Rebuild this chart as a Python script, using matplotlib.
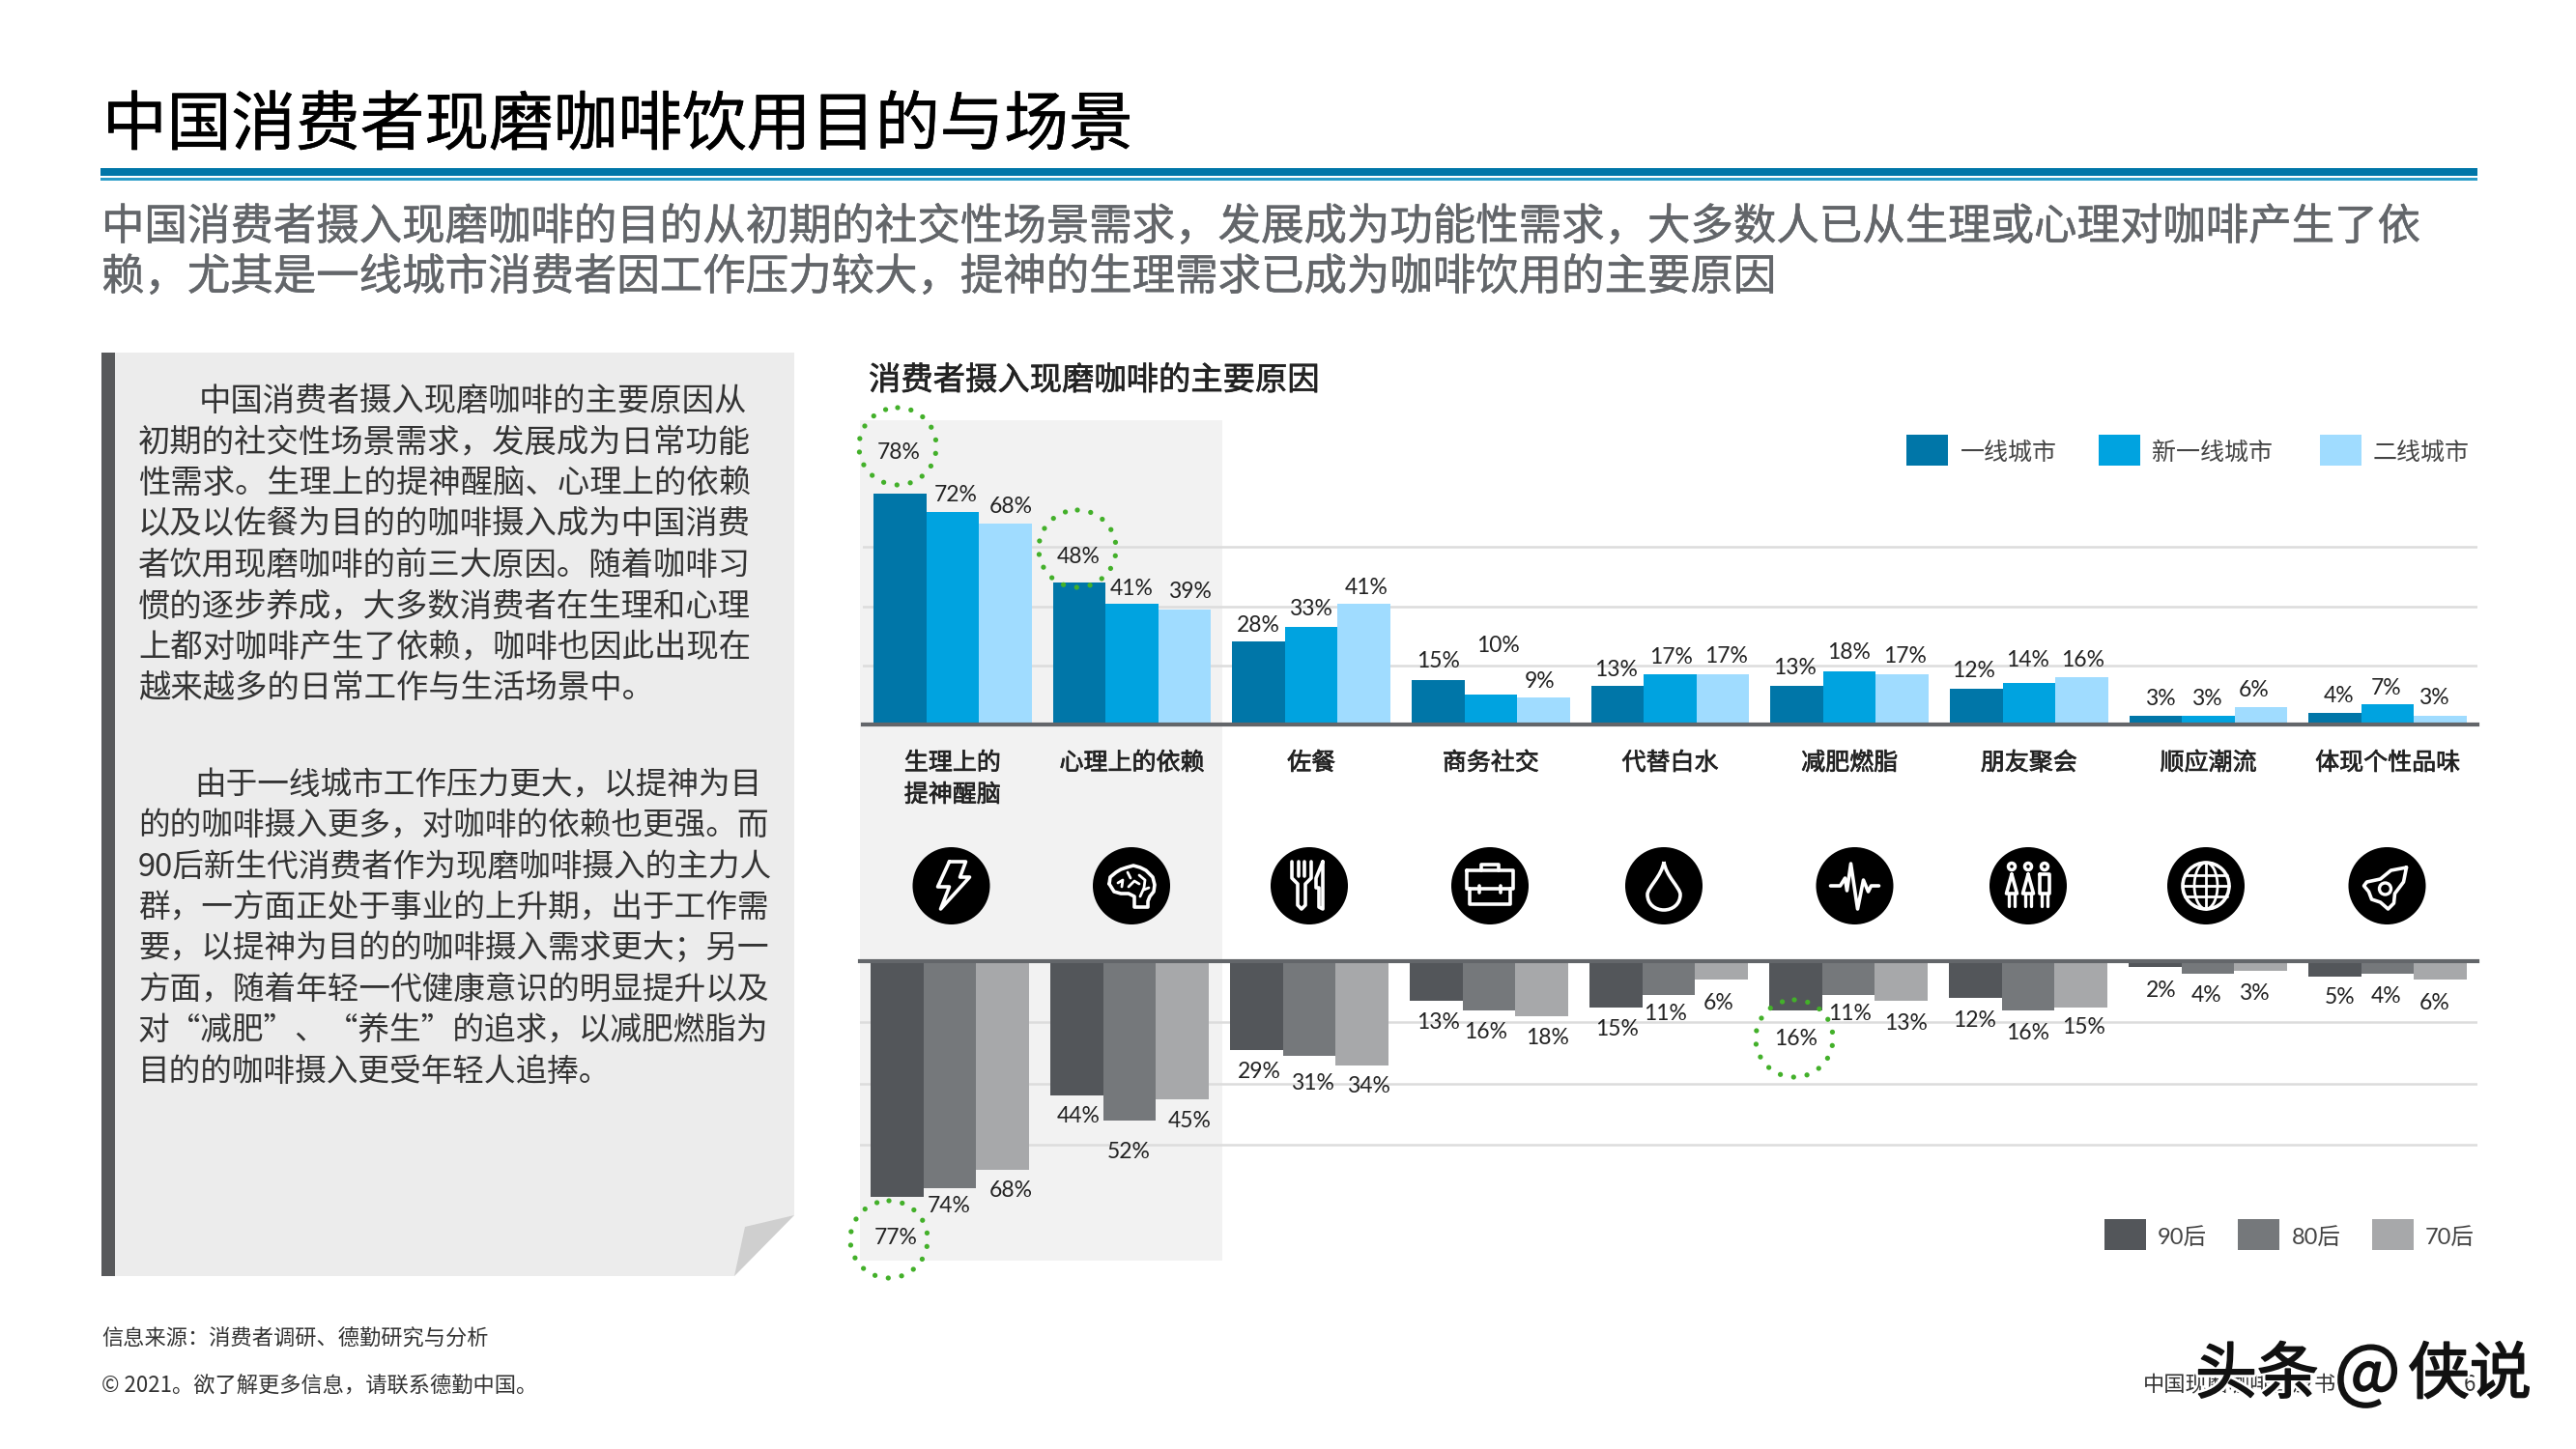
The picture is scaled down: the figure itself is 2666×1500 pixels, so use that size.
import matplotlib
matplotlib.use('Agg')
import matplotlib.pyplot as plt
import matplotlib.patheffects as pe
from matplotlib.patches import Circle, Ellipse, Polygon, PathPatch, Rectangle
from matplotlib.path import Path

plt.rcParams['font.family'] = ['Noto Sans CJK SC', 'DejaVu Sans']

W, H = 2666, 1500

# 数据
categories = ['生理上的\n提神醒脑', '心理上的依赖', '佐餐', '商务社交', '代替白水',
              '减肥燃脂', '朋友聚会', '顺应潮流', '体现个性品味']
tier1 = [78, 48, 28, 15, 13, 13, 12, 3, 4]
new_tier1 = [72, 41, 33, 10, 17, 18, 14, 3, 7]
tier2 = [68, 39, 41, 9, 17, 17, 16, 6, 3]
post90 = [77, 44, 29, 13, 15, 16, 12, 2, 5]
post80 = [74, 52, 31, 16, 11, 11, 16, 4, 4]
post70 = [68, 45, 34, 18, 6, 13, 15, 3, 6]

city_names = ['一线城市', '新一线城市', '二线城市']
age_names = ['90后', '80后', '70后']
city_colors = ['#0076a8', '#00a3e0', '#a0dcff']
age_colors = ['#53565a', '#75787b', '#a7a8aa']

# 数据标签相对柱端的偏移（像素）
up_dx = [[-1, -1, 0, 0, -1, -2, -2.5, 5, 4],
         [3, 0, -1, 7.5, 1, -1, -1, -2, -1.5],
         [5.5, 5, 2, -4, 3, 3, 1, -7, -7]]
up_dy = [[44, 28, 18, 21, 18, 20, 20, 19, 19],
         [19, 16.5, 20, 52, 19, 21, 25, 18.5, 18],
         [19, 20, 17.5, 18.5, 20, 20, 19, 19, 20]]
down_dx = [[-1, 2, 3, 2, 1, 0, -1, 6, 5],
           [-1, -1, 3, -3, -3, 2, 0, -1, -1],
           [8.5, 7.5, 6.5, 5.5, -3.5, 4.5, 2.5, -6.5, -6.5]]
down_dy = [[41, 19.5, 21, 21, 21.5, 28, 22, 23, 20],
           [17.5, 31, 27, 21, 18, 18, 22, 21, 22],
           [20, 21, 20, 21, 23, 22, 19.5, 22.5, 23]]
label_shift = 1.5

subtitle_lines = ['中国消费者摄入现磨咖啡的目的从初期的社交性场景需求，发展成为功能性需求，大多数人已从生理或心理对咖啡产生了依',
                  '赖，尤其是一线城市消费者因工作压力较大，提神的生理需求已成为咖啡饮用的主要原因']
para1 = ['中国消费者摄入现磨咖啡的主要原因从',
         '初期的社交性场景需求，发展成为日常功能',
         '性需求。生理上的提神醒脑、心理上的依赖',
         '以及以佐餐为目的的咖啡摄入成为中国消费',
         '者饮用现磨咖啡的前三大原因。随着咖啡习',
         '惯的逐步养成，大多数消费者在生理和心理',
         '上都对咖啡产生了依赖，咖啡也因此出现在',
         '越来越多的日常工作与生活场景中。']
para2 = ['由于一线城市工作压力更大，以提神为目',
         '的的咖啡摄入更多，对咖啡的依赖也更强。而',
         '90后新生代消费者作为现磨咖啡摄入的主力人',
         '群，一方面正处于事业的上升期，出于工作需',
         '要，以提神为目的的咖啡摄入需求更大；另一',
         '方面，随着年轻一代健康意识的明显提升以及',
         '对“减肥”、“养生”的追求，以减肥燃脂为',
         '目的的咖啡摄入更受年轻人追捧。']

fig = plt.figure(figsize=(W / 100, H / 100), dpi=100, facecolor='white')


def heavier(color, width=0.5):
    # 字体只有常规和粗体，用细描边做出中等字重
    return [pe.withStroke(linewidth=width, foreground=color)]


def pixel_axes(zorder):
    """整张图的像素坐标层"""
    ax = fig.add_axes([0, 0, 1, 1], zorder=zorder)
    ax.set_xlim(0, W)
    ax.set_ylim(H, 0)
    ax.axis('off')
    return ax


def chart_axes(x0, y0, x1, y1):
    ax = fig.add_axes([x0 / W, 1 - y1 / H, (x1 - x0) / W, (y1 - y0) / H], zorder=1)
    ax.patch.set_alpha(0)
    ax.set_xlim(-0.5, 8.5)
    ax.set_xticks([])
    ax.set_yticks([20, 40, 60])
    ax.tick_params(length=0, labelleft=False)
    ax.grid(axis='y', color='#dcdcdc', linewidth=1.8)
    ax.set_axisbelow(True)
    for s in ax.spines.values():
        s.set_visible(False)
    return ax


bg = pixel_axes(0)
over = pixel_axes(2)

# 标题区
bg.text(106, 131, '中国消费者现磨咖啡饮用目的与场景', fontsize=48, color='black', va='center',
        path_effects=heavier('black', 0.4))
bg.add_patch(Rectangle((104, 174), 2460, 8, color='#0076a8', lw=0))
bg.add_patch(Rectangle((104, 184), 2460, 3, color='#2a9cc8', lw=0))
for y, line in zip([235, 287], subtitle_lines):
    bg.text(105, y, line, fontsize=32, color='#63666a', va='center', path_effects=heavier('#63666a', 0.4))

# 左侧文字面板
bg.add_patch(Polygon([(105, 365), (822, 365), (822, 1258), (760, 1321), (105, 1321)],
                     closed=True, facecolor='#ececec', lw=0))
bg.add_patch(Rectangle((105, 365), 14, 956, color='#58595b', lw=0))
bg.add_patch(Polygon([(760, 1321), (771, 1270), (822, 1258)], closed=True, facecolor='#cfcfcf', lw=0))
for i, line in enumerate(para1):
    bg.text(206 if i == 0 else 143, 415 + 42.5 * i, line, fontsize=24, color='#333333', va='center')
for i, line in enumerate(para2):
    bg.text(201 if i == 0 else 143, 813 + 42.4 * i, line, fontsize=23.5, color='#333333', va='center')

# 图表标题与灰色底
bg.text(899, 394, '消费者摄入现磨咖啡的主要原因', fontsize=24, color='#222222', va='center',
        path_effects=heavier('#222222'))
bg.add_patch(Rectangle((890, 435), 375, 870, color='#f2f2f2', lw=0))

# 上半部分：城市
top = chart_axes(893, 435, 2564, 750)
top.set_ylim(0, 315 / 3.06)
top.spines['bottom'].set_visible(True)
top.spines['bottom'].set_color('#63666a')
top.spines['bottom'].set_linewidth(3)

bar_w = 54.6 / 185.7
for k, values in enumerate([tier1, new_tier1, tier2]):
    xs = [i + (k - 1) * bar_w for i in range(len(values))]
    top.bar(xs, values, width=bar_w, color=city_colors[k], zorder=2)
    for i, v in enumerate(values):
        top.annotate(f'{v}%', xy=(xs[i], v), xytext=(up_dx[k][i], up_dy[k][i] - label_shift),
                     textcoords='offset pixels', ha='center', va='center',
                     family='Lato', fontsize=16.5, color='#222222', annotation_clip=False)

for i, name in enumerate(categories):
    for j, part in enumerate(name.split('\n')):
        top.annotate(part, xy=(i, 0), xytext=(0, -40 - 33 * j), textcoords='offset pixels',
                     ha='center', va='center', fontsize=18, color='#222222',
                     annotation_clip=False, path_effects=heavier('#222222'))

# 下半部分：年龄
bottom = chart_axes(890, 995, 2564, 1305)
bottom.set_ylim(310 / 3.17, 0)
bottom.spines['top'].set_visible(True)
bottom.spines['top'].set_color('#63666a')
bottom.spines['top'].set_linewidth(3)

for k, values in enumerate([post90, post80, post70]):
    xs = [i + (k - 1) * bar_w for i in range(len(values))]
    bottom.bar(xs, values, width=bar_w, color=age_colors[k], zorder=2)
    for i, v in enumerate(values):
        bottom.annotate(f'{v}%', xy=(xs[i], v), xytext=(down_dx[k][i], -down_dy[k][i] - label_shift),
                        textcoords='offset pixels', ha='center', va='center',
                        family='Lato', fontsize=16.5, color='#222222', annotation_clip=False)

# 图例
for x0, name, tx, c in zip([1973, 2172, 2401], city_names, [2029, 2227, 2456], city_colors):
    bg.add_patch(Rectangle((x0, 450), 43, 32, color=c, lw=0))
    bg.text(tx, 469, name, fontsize=18, color='#444444', va='center')
for x0, name, tx, c in zip([2178, 2316, 2455], age_names, [2233, 2372, 2510], age_colors):
    bg.add_patch(Rectangle((x0, 1262), 43, 32, color=c, lw=0))
    bg.text(tx, 1281, name, fontsize=17, color='#444444', va='center',
            family=['Lato', 'Noto Sans CJK SC'])

# 绿色虚线圈
for cx, cy in [(929, 462), (1115, 568), (920, 1283), (1857, 1075)]:
    over.add_patch(Circle((cx, cy), 40, fill=False, edgecolor='#43b02a', linewidth=3.8,
                          linestyle=(0, (0.01, 2.65)), capstyle='round'))


# 图标
def stroke(points, cx, closed=False, lw=2.6):
    xs = [cx + p[0] for p in points]
    ys = [917 + p[1] for p in points]
    if closed:
        xs.append(xs[0])
        ys.append(ys[0])
    over.plot(xs, ys, color='white', lw=lw, solid_joinstyle='round', solid_capstyle='round')


def ring(cx, dx, dy, r, lw=2.4):
    over.add_patch(Circle((cx + dx, 917 + dy), r, fill=False, edgecolor='white', linewidth=lw))


def icon_bolt(cx):
    stroke([(-2, -25), (15, -25), (9, -9), (19, -9), (-11, 24), (-2, 1), (-14, 1)], cx, True)


def icon_brain(cx):
    stroke([(-23, -2), (-22, -9), (-16, -14), (-11, -17), (-5, -19), (2, -21), (9, -19), (15, -16),
            (22, -9), (24, -1), (23, 6), (19, 11), (17, 16), (17, 22), (3, 22), (3, 11), (-3, 8),
            (-11, 8), (-18, 6)], cx, True)
    stroke([(-14, -3), (-9, -6), (-10, 1)], cx, lw=2)
    stroke([(-4, -14), (-1, -8)], cx, lw=2)
    stroke([(-3, 1), (3, -5), (8, -2)], cx, lw=2)
    stroke([(8, -11), (14, -6), (13, 2), (9, 11)], cx, lw=2)
    stroke([(13, 4), (18, 2)], cx, lw=2)


def icon_cutlery(cx):
    stroke([(-18, -25), (-18, -8), (-12, -2), (-12, 20), (-8, 24), (-4, 20), (-4, -2), (2, -8), (2, -25)], cx)
    stroke([(-11, -25), (-11, -10)], cx)
    stroke([(-5, -25), (-5, -10)], cx)
    stroke([(14, -25), (7, -8), (7, 2), (10, 2), (10, 22), (14, 24)], cx, True)


def icon_case(cx):
    stroke([(-24, -16), (24, -16), (24, 3), (-24, 3)], cx, True)
    stroke([(-21, 3), (-21, 19), (21, 19), (21, 3)], cx)
    stroke([(-9, -16), (-9, -22), (9, -22), (9, -16)], cx)
    stroke([(-11, 0), (-11, 7)], cx)
    stroke([(11, 0), (11, 7)], cx)


def icon_drop(cx):
    verts = [(0, -25), (-2, -10), (-17, 2), (-17, 9), (-17, 19), (-9, 25), (0, 25),
             (9, 25), (17, 19), (17, 9), (17, 2), (2, -10), (0, -25)]
    codes = [Path.MOVETO] + [Path.CURVE4] * 12
    over.add_patch(PathPatch(Path([(cx + a, 917 + b) for a, b in verts], codes),
                             fill=False, edgecolor='white', linewidth=2.6))


def icon_pulse(cx):
    stroke([(-25, 0), (-15, 0), (-10, -8), (-8, 5), (-4, -23), (3, 24), (9, -6), (14, 6),
            (17, 0), (25, 0)], cx)


def icon_people(cx):
    for dx in [-17, 0, 17]:
        ring(cx, dx, -20, 3.5, lw=2.5)
        if dx < 17:
            stroke([(dx, -12), (dx - 5.5, 8), (dx + 5.5, 8)], cx, True, lw=2.6)
        else:
            stroke([(dx - 5, -12), (dx + 5, -12), (dx + 5, 8), (dx - 5, 8)], cx, True, lw=2.6)
        stroke([(dx - 3, 8), (dx - 3, 21)], cx, lw=2.4)
        stroke([(dx + 3, 8), (dx + 3, 21)], cx, lw=2.4)


def icon_globe(cx):
    ring(cx, 0, 0, 24, lw=2.6)
    over.add_patch(Ellipse((cx, 917), 24, 48, fill=False, edgecolor='white', linewidth=2))
    stroke([(0, -24), (0, 24)], cx, lw=2)
    for dy in [-11, 0, 11]:
        half = 22 if dy else 24
        stroke([(-half, dy), (half, dy)], cx, lw=2)


def icon_rocket(cx):
    stroke([(20, -19), (4, -16), (-7, -7), (-21, -4), (-24, 0), (-19, 6), (-16, 14), (-7, 17),
            (1, 24), (7, 18), (8, 8), (17, -4)], cx, True)
    ring(cx, -2, 3, 6)


icon_x = [984.5, 1171, 1355, 1542, 1722, 1919.5, 2099, 2283, 2470.5]
icons = [icon_bolt, icon_brain, icon_cutlery, icon_case, icon_drop, icon_pulse, icon_people,
         icon_globe, icon_rocket]
for cx, draw in zip(icon_x, icons):
    over.add_patch(Circle((cx, 917), 40, color='black', lw=0))
    draw(cx)

# 页脚
bg.text(105, 1386, '信息来源：消费者调研、德勤研究与分析', fontsize=16, color='#333333', va='center')
bg.text(105, 1434, '© 2021。欲了解更多信息，请联系德勤中国。', fontsize=16, color='#333333', va='center')
bg.text(2218, 1434, '中国现磨咖啡白皮书', fontsize=16, color='#333333', va='center')
bg.text(2550, 1434, '6', fontsize=16, color='#333333', va='center')

# 水印
halo = [pe.withStroke(linewidth=5, foreground='white')]
for tx, part, size in [(2272, '头条', 46), (2416, '@', 52), (2492, '侠说', 46)]:
    over.text(tx, 1424, part, fontsize=size, color='#111111', va='center',
              path_effects=[pe.withStroke(linewidth=5, foreground='white'),
                            pe.withStroke(linewidth=1.2, foreground='#111111')])

fig.savefig('out.png', dpi=100)
